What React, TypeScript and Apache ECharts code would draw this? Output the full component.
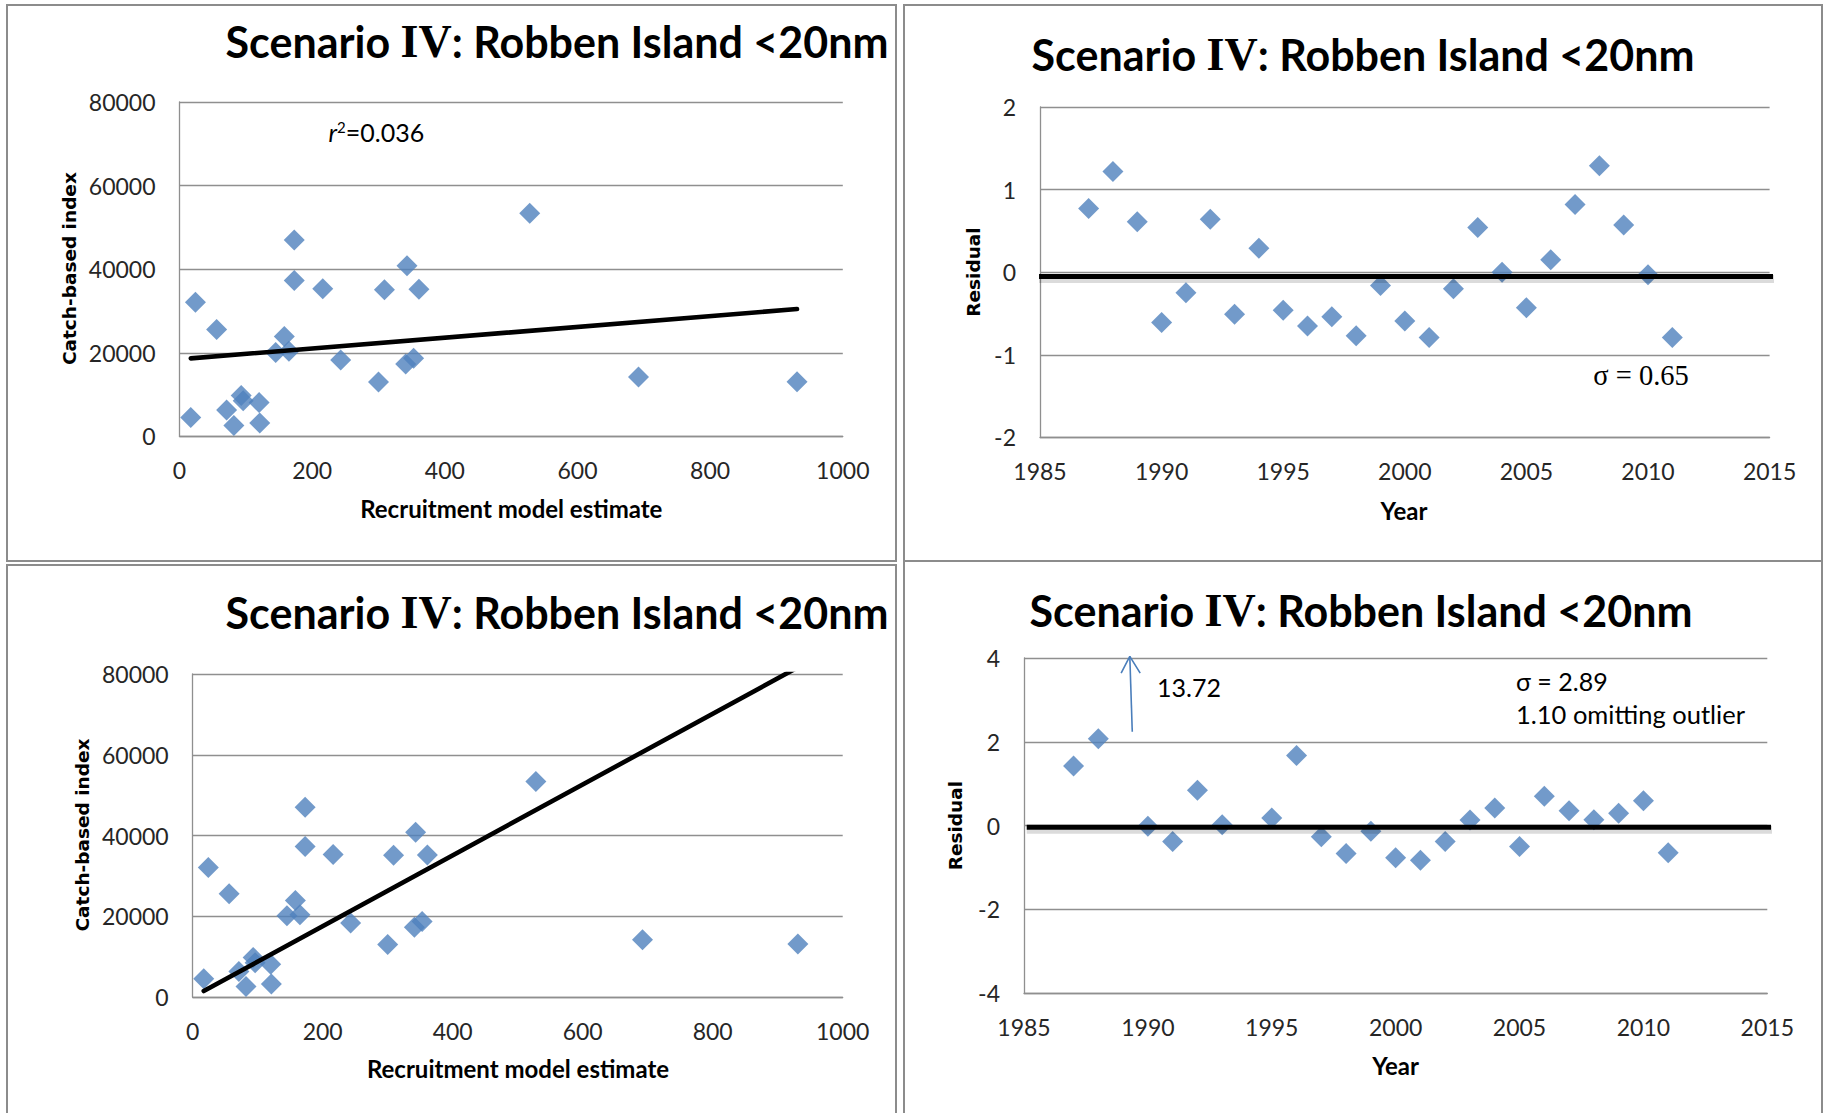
import { useEffect, useRef } from "react";
import * as echarts from "echarts";

// Recruitment model estimate vs catch-based index, one point per year 1987-2011
const recruitEstimate = [17, 24, 56, 71, 82, 93, 96, 120, 121, 145, 158, 165, 173, 173, 216, 243, 300, 309, 341, 343, 353, 361, 528, 692, 931];
const catchIndex = [4500, 32100, 25600, 6300, 2600, 9800, 8500, 8100, 3200, 20100, 23900, 20400, 47000, 37300, 35300, 18300, 13000, 35100, 17300, 40800, 18700, 35200, 53400, 14200, 13100];

const years = [1987, 1988, 1989, 1990, 1991, 1992, 1993, 1994, 1995, 1996, 1997, 1998, 1999, 2000, 2001, 2002, 2003, 2004, 2005, 2006, 2007, 2008, 2009, 2010, 2011];
// Residuals of the fit with intercept
const residualsIntercept = [0.77, 1.22, 0.61, -0.61, -0.25, 0.64, -0.51, 0.29, -0.46, -0.65, -0.54, -0.77, -0.16, -0.59, -0.79, -0.2, 0.54, 0.0, -0.43, 0.15, 0.82, 1.29, 0.57, -0.03, -0.79];
// Residuals of the fit through the origin (1989 is the off-scale outlier)
const residualsOrigin = [1.42, 2.07, 13.72, -0.02, -0.38, 0.84, 0.02, null, 0.18, 1.67, -0.27, -0.67, -0.14, -0.77, -0.83, -0.38, 0.13, 0.42, -0.5, 0.7, 0.35, 0.14, 0.29, 0.59, -0.65];

const fitIntercept = { slope: 12.9, intercept: 18450 };
const fitOrigin = { slope: 87.7, intercept: 0 };

const recruitAxis = { min: 0, max: 1000, interval: 200 };
const indexAxis = { min: 0, max: 80000, interval: 20000 };
const yearAxis = { min: 1985, max: 2015, interval: 5 };
const residAxisA = { min: -2, max: 2, interval: 1 };
const residAxisB = { min: -4, max: 4, interval: 2 };

// Baselines drawn slightly past the right edge of the plot; shade sits just below
const baselineA = { y: -0.053, shade: 0.03, from: 1984.96, to: 2015.39 };
const baselineB = { y: -0.04, shade: 0.06, from: 1985.11, to: 2015.63 };

// Arrow pointing to the off-scale 1989 residual
const arrowShaft = [[1989.37, 2.24], [1989.27, 4.04]];
const arrowHead = [[1988.92, 3.64], [1989.27, 4.04], [1989.69, 3.64]];

const BLUE = "#4F81BD";
const GRIDC = "#8f8f8f";
const LABEL = "#262626";
const SANS = "Lato";
const SERIF = "Liberation Serif";
const TITLE_TEXT = "{a|Scenario }{b|IV}{a|: Robben Island <20nm}";

const plain = (v: number) => String(v);

function xAxisOf(gridIndex: number, r: { min: number; max: number; interval: number }) {
  return {
    type: "value",
    gridIndex,
    min: r.min,
    max: r.max,
    interval: r.interval,
    axisLine: { show: true, onZero: false, lineStyle: { color: GRIDC, width: 1.3 } },
    axisTick: { show: false },
    splitLine: { show: false },
    axisLabel: { fontFamily: SANS, fontSize: 23, color: LABEL, margin: 22, formatter: plain },
  };
}

function yAxisOf(gridIndex: number, r: { min: number; max: number; interval: number }) {
  return {
    type: "value",
    gridIndex,
    min: r.min,
    max: r.max,
    interval: r.interval,
    axisLine: { show: true, onZero: false, lineStyle: { color: GRIDC, width: 1.3 } },
    axisTick: { show: false },
    splitLine: { show: true, lineStyle: { color: GRIDC, width: 1.3 } },
    axisLabel: { fontFamily: SANS, fontSize: 23, color: LABEL, margin: 24, formatter: plain },
  };
}

function titleText(x: number, y: number) {
  return {
    type: "text",
    x,
    y,
    style: {
      text: TITLE_TEXT,
      align: "center",
      verticalAlign: "middle",
      fill: "#000",
      rich: {
        a: { fontFamily: SANS, fontWeight: "bold", fontSize: 43, fill: "#000" },
        b: { fontFamily: SERIF, fontWeight: "bold", fontSize: 46, fill: "#000" },
      },
    },
  };
}

function label(text: string, x: number, y: number, font: any, rotate = false) {
  return {
    type: "text",
    x,
    y,
    rotation: rotate ? Math.PI / 2 : 0,
    style: {
      text,
      align: font.align || "center",
      verticalAlign: "middle",
      fill: font.fill || "#000",
      fontFamily: font.family,
      fontSize: font.size,
      fontWeight: font.weight || "normal",
      fontStyle: font.style || "normal",
    },
  };
}

function panelBorder(x: number, y: number, w: number, h: number) {
  return {
    type: "rect",
    shape: { x, y, width: w, height: h },
    style: { fill: "none", stroke: "#8c8c8c", lineWidth: 2 },
    z: 10,
  };
}

export default function App() {
  const ref = useRef<HTMLDivElement>(null);

  useEffect(() => {
    if (!ref.current) return;
    const chart = echarts.init(ref.current, undefined, { renderer: "svg" });

    const scatterPts = recruitEstimate.map((x, i) => [x, catchIndex[i]]);
    const xLo = Math.min(...recruitEstimate);
    const xHi = Math.max(...recruitEstimate);
    const fitLine = (f: { slope: number; intercept: number }) => [
      [xLo, f.intercept + f.slope * xLo],
      [xHi, f.intercept + f.slope * xHi],
    ];
    const residPts = (vals: (number | null)[]) =>
      years.map((yr, i) => [yr, vals[i]]).filter((p) => p[1] !== null);

    const diamond = (xi: number, yi: number, data: any[]) => ({
      type: "scatter",
      xAxisIndex: xi,
      yAxisIndex: yi,
      symbol: "diamond",
      symbolSize: 21,
      itemStyle: { color: BLUE },
      data,
      z: 2,
    });
    const fitSeries = (xi: number, yi: number, data: any[]) => ({
      type: "line",
      xAxisIndex: xi,
      yAxisIndex: yi,
      showSymbol: false,
      symbol: "none",
      clip: true,
      silent: true,
      lineStyle: { color: "#000", width: 4.6, cap: "round" },
      data,
      z: 3,
    });
    // Heavy zero baseline with a soft grey shade just underneath
    const baseline = (xi: number, yi: number, b: { y: number; shade: number; from: number; to: number }) => [
      {
        type: "line",
        xAxisIndex: xi,
        yAxisIndex: yi,
        symbol: "none",
        clip: false,
        silent: true,
        lineStyle: { color: "rgba(0,0,0,0.14)", width: 8 },
        data: [[b.from, b.y - b.shade], [b.to, b.y - b.shade]],
        z: 3,
      },
      {
        type: "line",
        xAxisIndex: xi,
        yAxisIndex: yi,
        symbol: "none",
        clip: false,
        silent: true,
        lineStyle: { color: "#000", width: 5 },
        data: [[b.from, b.y], [b.to, b.y]],
        z: 4,
      },
    ];
    const arrowPart = (data: any[]) => ({
      type: "line",
      xAxisIndex: 3,
      yAxisIndex: 3,
      symbol: "none",
      clip: false,
      silent: true,
      lineStyle: { color: "#4A7EBB", width: 1.6 },
      data,
      z: 3,
    });

    const option: any = {
      animation: false,
      backgroundColor: "#fff",
      grid: [
        { left: 179.5, top: 102, width: 663.3, height: 334.4 },
        { left: 1040, top: 107, width: 729.6, height: 330.4 },
        { left: 192.7, top: 674, width: 650, height: 323 },
        { left: 1024, top: 658, width: 743.3, height: 335 },
      ],
      xAxis: [
        xAxisOf(0, recruitAxis),
        xAxisOf(1, yearAxis),
        xAxisOf(2, recruitAxis),
        xAxisOf(3, yearAxis),
      ],
      yAxis: [
        yAxisOf(0, indexAxis),
        yAxisOf(1, residAxisA),
        yAxisOf(2, indexAxis),
        yAxisOf(3, residAxisB),
      ],
      series: [
        diamond(0, 0, scatterPts),
        fitSeries(0, 0, fitLine(fitIntercept)),
        diamond(1, 1, residPts(residualsIntercept)),
        ...baseline(1, 1, baselineA),
        diamond(2, 2, scatterPts),
        fitSeries(2, 2, fitLine(fitOrigin)),
        diamond(3, 3, residPts(residualsOrigin)),
        ...baseline(3, 3, baselineB),
        arrowPart(arrowShaft),
        arrowPart(arrowHead),
      ],
      graphic: [
        panelBorder(7, 5, 889, 556),
        panelBorder(904, 5, 918, 556),
        panelBorder(7, 565, 889, 560),
        panelBorder(904, 561, 918, 564),
        titleText(557, 41),
        titleText(1363, 54),
        titleText(557, 612),
        titleText(1361, 610),
        label("Catch-based index", 69.6, 268.6, { family: "DejaVu Sans", size: 18.5, weight: "bold" }, true),
        label("Recruitment model estimate", 511.3, 508, { family: SANS, size: 24, weight: "bold" }),
        label("Residual", 973, 272, { family: "DejaVu Sans", size: 18.5, weight: "bold" }, true),
        label("Year", 1404, 510, { family: SANS, size: 24, weight: "bold" }),
        label("Catch-based index", 82, 835, { family: "DejaVu Sans", size: 18.5, weight: "bold" }, true),
        label("Recruitment model estimate", 518, 1068.6, { family: SANS, size: 24, weight: "bold" }),
        label("Residual", 955.6, 825.6, { family: "DejaVu Sans", size: 18.5, weight: "bold" }, true),
        label("Year", 1395.6, 1065, { family: SANS, size: 24, weight: "bold" }),
        {
          type: "text",
          x: 328.5,
          y: 132,
          style: {
            text: "{i|r}{s|2}{n|=0.036}",
            align: "left",
            verticalAlign: "middle",
            rich: {
              i: { fontFamily: SANS, fontStyle: "italic", fontSize: 25, fill: "#000" },
              s: { fontFamily: SANS, fontSize: 15, fill: "#000", verticalAlign: "top" },
              n: { fontFamily: SANS, fontSize: 25, fill: "#000" },
            },
          },
        },
        label("σ = 0.65", 1593.3, 375, { family: SERIF, size: 28.5, align: "left" }),
        label("13.72", 1157, 687, { family: SANS, size: 25, align: "left" }),
        label("σ = 2.89", 1516, 681, { family: SANS, size: 25, align: "left" }),
        label("1.10 omitting outlier", 1516, 714, { family: SANS, size: 25.5, align: "left" }),
      ],
    };

    chart.setOption(option);
    return () => chart.dispose();
  }, []);

  return (
    <div
      ref={ref}
      style={{ position: "absolute", left: 0, top: 0, width: 1826, height: 1113, background: "#fff" }}
    />
  );
}
